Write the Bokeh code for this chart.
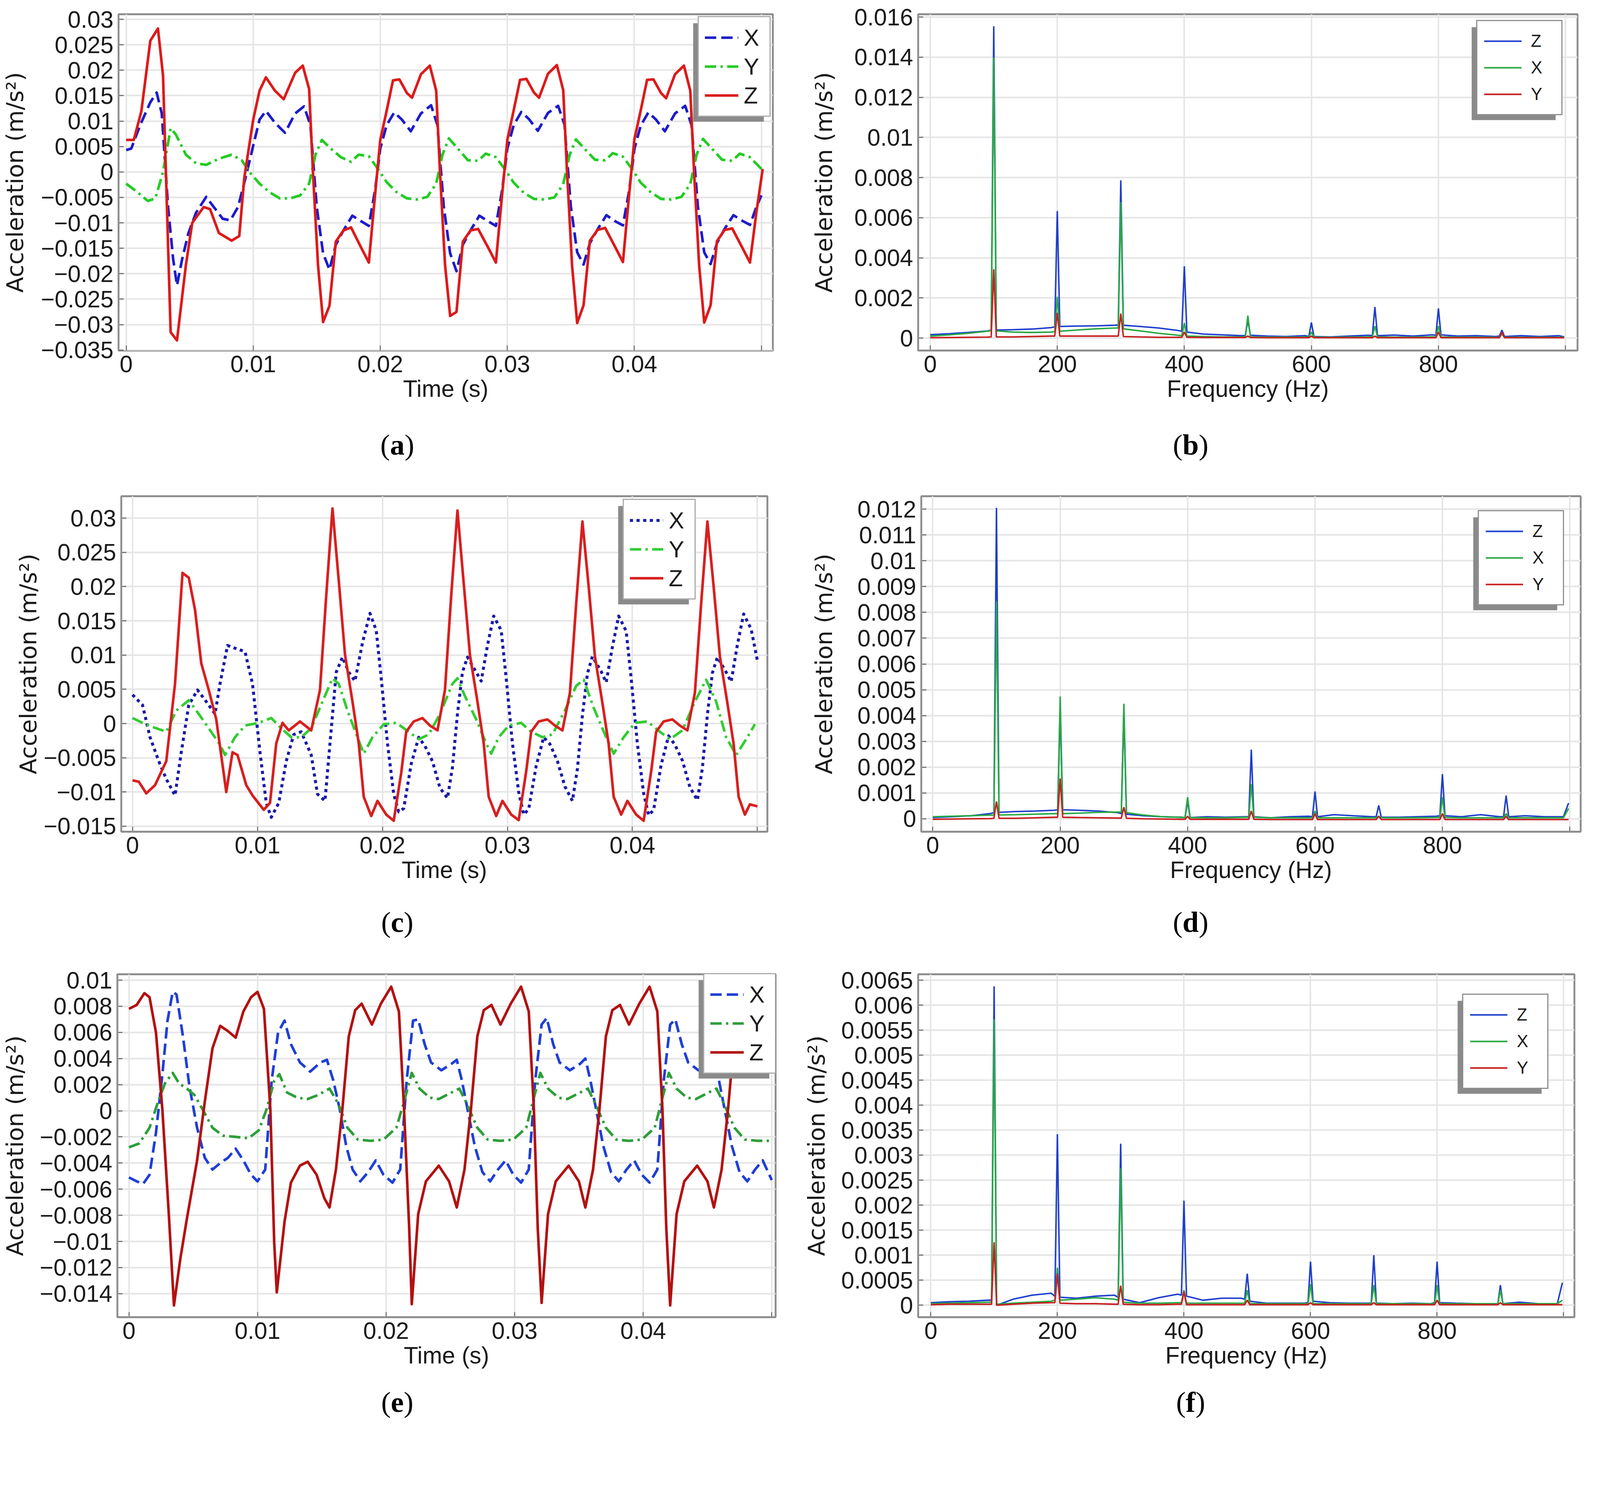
from bokeh.embed import file_html
from bokeh.layouts import column, row
from bokeh.models import (BoxAnnotation, CustomJSTickFormatter, Div, FixedTicker,
                          Legend, LegendItem, Range1d)
from bokeh.plotting import figure
from bokeh.resources import INLINE

SANS = "Liberation Sans"
YLAB_FONT = "DejaVu Sans"

# the page is laid out in reference pixels and scaled by S to css pixels
S = 0.955

# ---------------- (a) time signal ----------------
a_x_t = [
    0.0000, 0.0004, 0.0011, 0.0019, 0.0024, 0.0028, 0.0033, 0.0037, 0.0040, 0.0044,
    0.0049, 0.0055, 0.0063, 0.0069, 0.0076, 0.0082, 0.0088, 0.0094,
    0.0100, 0.0105, 0.0110, 0.0117, 0.0125, 0.0133, 0.0140, 0.0145, 0.0150, 0.0155,
    0.0160, 0.0165, 0.0171, 0.0178, 0.0185, 0.0191, 0.0196,
    0.0200, 0.0205, 0.0211, 0.0217, 0.0224, 0.0232, 0.0240, 0.0245, 0.0250, 0.0255,
    0.0260, 0.0265, 0.0271, 0.0278, 0.0285, 0.0291, 0.0296,
    0.0300, 0.0305, 0.0311, 0.0317, 0.0324, 0.0332, 0.0340, 0.0345, 0.0350, 0.0355,
    0.0360, 0.0365, 0.0371, 0.0378, 0.0385, 0.0391, 0.0396,
    0.0400, 0.0405, 0.0411, 0.0417, 0.0424, 0.0432, 0.0440, 0.0445, 0.0450, 0.0455,
    0.0460, 0.0465, 0.0471, 0.0478, 0.0485, 0.0491, 0.0496, 0.0500,
]
a_x = [
    0.0043, 0.0046, 0.0092, 0.0137, 0.0156, 0.0115, -0.0069, -0.0172, -0.0223, -0.0172,
    -0.0120, -0.0080, -0.0049, -0.0069, -0.0092, -0.0095, -0.0069, -0.0011,
    0.0052, 0.0103, 0.0120, 0.0097, 0.0077, 0.0115, 0.0129, 0.0092, -0.0069, -0.0160,
    -0.0192, -0.0143, -0.0115, -0.0086, -0.0097, -0.0106, -0.0034,
    0.0046, 0.0092, 0.0117, 0.0103, 0.0080, 0.0115, 0.0131, 0.0092, -0.0069, -0.0160,
    -0.0195, -0.0143, -0.0115, -0.0086, -0.0097, -0.0106, -0.0034,
    0.0046, 0.0092, 0.0118, 0.0104, 0.0081, 0.0116, 0.0130, 0.0093, -0.0068, -0.0158,
    -0.0182, -0.0140, -0.0113, -0.0085, -0.0097, -0.0105, -0.0035,
    0.0045, 0.0091, 0.0117, 0.0103, 0.0080, 0.0115, 0.0130, 0.0092, -0.0068, -0.0158,
    -0.0181, -0.0140, -0.0112, -0.0085, -0.0096, -0.0104, -0.0069, -0.0046,
]
a_y_t = [
    0.0000, 0.0009, 0.0017, 0.0023, 0.0029, 0.0035, 0.0039, 0.0047, 0.0055, 0.0063,
    0.0073, 0.0083, 0.0091, 0.0097,
    0.0105, 0.0113, 0.0121, 0.0129, 0.0137, 0.0144, 0.0149, 0.0154, 0.0161, 0.0169,
    0.0177, 0.0183, 0.0191, 0.0199,
    0.0205, 0.0213, 0.0221, 0.0229, 0.0237, 0.0244, 0.0249, 0.0254, 0.0261, 0.0269,
    0.0277, 0.0283, 0.0291, 0.0299,
    0.0305, 0.0313, 0.0321, 0.0329, 0.0337, 0.0344, 0.0349, 0.0354, 0.0361, 0.0369,
    0.0377, 0.0383, 0.0391, 0.0399,
    0.0405, 0.0413, 0.0421, 0.0429, 0.0437, 0.0444, 0.0449, 0.0454, 0.0461, 0.0469,
    0.0477, 0.0483, 0.0491, 0.0500,
]
a_y = [
    -0.0023, -0.0040, -0.0057, -0.0052, 0.0000, 0.0086, 0.0074, 0.0034, 0.0017, 0.0014,
    0.0026, 0.0034, 0.0023, 0.0000,
    -0.0023, -0.0040, -0.0052, -0.0052, -0.0046, -0.0023, 0.0034, 0.0063, 0.0046, 0.0029,
    0.0020, 0.0034, 0.0031, 0.0003,
    -0.0020, -0.0040, -0.0052, -0.0054, -0.0049, -0.0023, 0.0034, 0.0066, 0.0046, 0.0023,
    0.0022, 0.0036, 0.0029, 0.0002,
    -0.0021, -0.0041, -0.0053, -0.0054, -0.0050, -0.0024, 0.0033, 0.0064, 0.0045, 0.0024,
    0.0023, 0.0037, 0.0030, 0.0003,
    -0.0021, -0.0040, -0.0053, -0.0054, -0.0049, -0.0024, 0.0034, 0.0065, 0.0046, 0.0024,
    0.0022, 0.0036, 0.0029, 0.0006,
]
a_z_t = [
    0.0000, 0.0006, 0.0012, 0.0019, 0.0025, 0.0029, 0.0035, 0.0040, 0.0047, 0.0052,
    0.0061, 0.0066, 0.0073, 0.0083, 0.0089, 0.0093,
    0.0100, 0.0105, 0.0110, 0.0117, 0.0124, 0.0133, 0.0139, 0.0144, 0.0147, 0.0151,
    0.0155, 0.0160, 0.0165, 0.0171, 0.0177, 0.0185, 0.0191, 0.0195,
    0.0200, 0.0205, 0.0210, 0.0215, 0.0221, 0.0225, 0.0232, 0.0239, 0.0244, 0.0247,
    0.0251, 0.0255, 0.0260, 0.0265, 0.0271, 0.0277, 0.0285, 0.0291, 0.0295,
    0.0300, 0.0305, 0.0310, 0.0315, 0.0321, 0.0325, 0.0332, 0.0339, 0.0344, 0.0347,
    0.0351, 0.0355, 0.0360, 0.0365, 0.0371, 0.0377, 0.0385, 0.0391, 0.0395,
    0.0400, 0.0405, 0.0410, 0.0415, 0.0421, 0.0425, 0.0432, 0.0439, 0.0444, 0.0447,
    0.0451, 0.0455, 0.0460, 0.0465, 0.0471, 0.0477, 0.0485, 0.0491, 0.0496, 0.0501,
]
a_z = [
    0.0063, 0.0063, 0.0120, 0.0258, 0.0282, 0.0190, -0.0315, -0.0331, -0.0183, -0.0100,
    -0.0069, -0.0073, -0.0120, -0.0135, -0.0126, -0.0011,
    0.0103, 0.0160, 0.0186, 0.0160, 0.0143, 0.0195, 0.0209, 0.0163, 0.0000, -0.0183,
    -0.0295, -0.0263, -0.0137, -0.0115, -0.0109, -0.0149, -0.0178, -0.0069,
    0.0063, 0.0120, 0.0180, 0.0182, 0.0155, 0.0146, 0.0192, 0.0209, 0.0160, 0.0000,
    -0.0183, -0.0283, -0.0275, -0.0137, -0.0115, -0.0112, -0.0149, -0.0178, -0.0069,
    0.0063, 0.0121, 0.0181, 0.0183, 0.0156, 0.0146, 0.0193, 0.0210, 0.0161, 0.0000,
    -0.0185, -0.0297, -0.0262, -0.0135, -0.0114, -0.0110, -0.0148, -0.0177, -0.0068,
    0.0064, 0.0121, 0.0181, 0.0182, 0.0155, 0.0145, 0.0192, 0.0209, 0.0160, 0.0000,
    -0.0184, -0.0296, -0.0262, -0.0136, -0.0114, -0.0111, -0.0149, -0.0178, -0.0080, 0.0006,
]

# ---------------- (c) time signal ----------------
c_x_t = [
    0.0000, 0.0008, 0.0014, 0.0021, 0.0027, 0.0034, 0.0039, 0.0045, 0.0052, 0.0059,
    0.0066, 0.0070, 0.0076, 0.0082, 0.0090, 0.0096,
    0.0102, 0.0107, 0.0111, 0.0117, 0.0123, 0.0129, 0.0135, 0.0143, 0.0148, 0.0154,
    0.0158, 0.0163, 0.0168, 0.0173, 0.0178, 0.0184, 0.0190, 0.0195, 0.0199,
    0.0204, 0.0209, 0.0213, 0.0217, 0.0223, 0.0229, 0.0234, 0.0240, 0.0246, 0.0252,
    0.0256, 0.0260, 0.0264, 0.0268, 0.0275, 0.0279, 0.0284, 0.0289, 0.0295, 0.0299,
    0.0304, 0.0309, 0.0313, 0.0317, 0.0323, 0.0329, 0.0334, 0.0340, 0.0346, 0.0352,
    0.0356, 0.0360, 0.0364, 0.0368, 0.0375, 0.0379, 0.0384, 0.0389, 0.0395, 0.0399,
    0.0404, 0.0409, 0.0413, 0.0417, 0.0423, 0.0429, 0.0434, 0.0440, 0.0446, 0.0452,
    0.0456, 0.0460, 0.0464, 0.0468, 0.0475, 0.0479, 0.0484, 0.0489, 0.0495, 0.0500,
]
c_x = [
    0.0042, 0.0027, -0.0020, -0.0055, -0.0081, -0.0105, -0.0042, 0.0027, 0.0049, 0.0032,
    0.0014, 0.0058, 0.0114, 0.0110, 0.0105, 0.0058,
    -0.0042, -0.0116, -0.0137, -0.0116, -0.0055, -0.0016, -0.0012, -0.0046, -0.0103, -0.0113,
    -0.0029, 0.0075, 0.0097, 0.0075, 0.0062, 0.0118, 0.0161, 0.0136, 0.0066,
    -0.0029, -0.0103, -0.0129, -0.0124, -0.0059, -0.0020, -0.0033, -0.0055, -0.0094, -0.0109,
    -0.0064, 0.0014, 0.0075, 0.0097, 0.0075, 0.0062, 0.0114, 0.0157, 0.0136, 0.0066,
    -0.0029, -0.0100, -0.0133, -0.0125, -0.0062, -0.0020, -0.0030, -0.0055, -0.0092, -0.0113,
    -0.0066, 0.0012, 0.0073, 0.0098, 0.0076, 0.0060, 0.0112, 0.0157, 0.0135, 0.0066,
    -0.0030, -0.0102, -0.0134, -0.0126, -0.0060, -0.0018, -0.0031, -0.0054, -0.0093, -0.0112,
    -0.0065, 0.0013, 0.0074, 0.0097, 0.0075, 0.0061, 0.0115, 0.0160, 0.0138, 0.0092,
]
c_y_t = [
    0.0000, 0.0008, 0.0016, 0.0027, 0.0035, 0.0045, 0.0053, 0.0061, 0.0070, 0.0074,
    0.0082, 0.0090,
    0.0101, 0.0111, 0.0119, 0.0127, 0.0135, 0.0143, 0.0152, 0.0160, 0.0165, 0.0172,
    0.0180, 0.0185, 0.0192,
    0.0201, 0.0211, 0.0221, 0.0229, 0.0237, 0.0246, 0.0256, 0.0260, 0.0266, 0.0275,
    0.0283, 0.0287, 0.0293,
    0.0301, 0.0311, 0.0319, 0.0328, 0.0336, 0.0346, 0.0355, 0.0361, 0.0369, 0.0379,
    0.0385, 0.0393,
    0.0402, 0.0412, 0.0422, 0.0430, 0.0440, 0.0450, 0.0459, 0.0467, 0.0475, 0.0483,
    0.0492, 0.0498,
]
c_y = [
    0.0008, 0.0001, -0.0005, -0.0012, 0.0019, 0.0034, 0.0014, -0.0007, -0.0031, -0.0046,
    -0.0020, -0.0003,
    0.0001, 0.0008, -0.0007, -0.0020, -0.0020, -0.0007, 0.0032, 0.0066, 0.0058, 0.0019,
    -0.0020, -0.0044, -0.0020,
    -0.0001, 0.0001, -0.0012, -0.0023, -0.0016, 0.0014, 0.0058, 0.0066, 0.0040, 0.0006,
    -0.0029, -0.0044, -0.0020,
    -0.0003, 0.0001, -0.0012, -0.0020, -0.0016, 0.0019, 0.0055, 0.0064, 0.0023, -0.0020,
    -0.0044, -0.0020,
    0.0001, 0.0003, -0.0012, -0.0023, -0.0010, 0.0032, 0.0064, 0.0032, -0.0020, -0.0046,
    -0.0020, -0.0001,
]
c_z_t = [
    0.0000, 0.0005, 0.0011, 0.0018, 0.0027, 0.0034, 0.0040, 0.0045, 0.0050, 0.0055,
    0.0061, 0.0067, 0.0075, 0.0080, 0.0084, 0.0091, 0.0096,
    0.0105, 0.0110, 0.0115, 0.0120, 0.0125, 0.0134, 0.0143, 0.0150, 0.0155, 0.0160,
    0.0165, 0.0170, 0.0176, 0.0181, 0.0185, 0.0191, 0.0196,
    0.0203, 0.0209, 0.0215, 0.0219, 0.0225, 0.0232, 0.0238, 0.0244, 0.0250, 0.0255,
    0.0260, 0.0265, 0.0270, 0.0276, 0.0281, 0.0285, 0.0291, 0.0296,
    0.0303, 0.0309, 0.0315, 0.0319, 0.0325, 0.0332, 0.0338, 0.0344, 0.0350, 0.0355,
    0.0360, 0.0365, 0.0370, 0.0376, 0.0381, 0.0385, 0.0391, 0.0396,
    0.0403, 0.0409, 0.0415, 0.0419, 0.0425, 0.0432, 0.0438, 0.0444, 0.0450, 0.0455,
    0.0460, 0.0465, 0.0470, 0.0476, 0.0481, 0.0485, 0.0490, 0.0494, 0.0500,
]
c_z = [
    -0.0083, -0.0085, -0.0102, -0.0090, -0.0055, 0.0058, 0.0220, 0.0213, 0.0166, 0.0088,
    0.0049, 0.0006, -0.0100, -0.0042, -0.0046, -0.0090, -0.0105,
    -0.0126, -0.0116, -0.0029, 0.0001, -0.0010, 0.0003, -0.0010, 0.0049, 0.0187, 0.0314,
    0.0209, 0.0101, 0.0032, -0.0029, -0.0107, -0.0135, -0.0113,
    -0.0133, -0.0142, -0.0072, -0.0012, 0.0003, 0.0008, -0.0003, -0.0010, 0.0049, 0.0187,
    0.0311, 0.0205, 0.0100, 0.0032, -0.0029, -0.0107, -0.0135, -0.0113,
    -0.0133, -0.0141, -0.0070, -0.0012, 0.0003, 0.0006, -0.0003, -0.0010, 0.0045, 0.0175,
    0.0295, 0.0200, 0.0098, 0.0030, -0.0030, -0.0107, -0.0133, -0.0113,
    -0.0133, -0.0142, -0.0070, -0.0012, 0.0003, 0.0006, -0.0003, -0.0010, 0.0045, 0.0175,
    0.0295, 0.0200, 0.0098, 0.0030, -0.0030, -0.0107, -0.0133, -0.0118, -0.0121,
]

# ---------------- (e) time signal ----------------
e_x_t = [
    0.0000, 0.0006, 0.0011, 0.0016, 0.0021, 0.0026, 0.0030, 0.0034, 0.0037, 0.0042,
    0.0047, 0.0053, 0.0059, 0.0065, 0.0071, 0.0077, 0.0083, 0.0089, 0.0095,
    0.0100, 0.0106, 0.0111, 0.0116, 0.0121, 0.0126, 0.0133, 0.0141, 0.0149, 0.0154,
    0.0159, 0.0164, 0.0169, 0.0174, 0.0180, 0.0186, 0.0192, 0.0198,
    0.0205, 0.0211, 0.0216, 0.0221, 0.0225, 0.0230, 0.0235, 0.0243, 0.0251, 0.0255,
    0.0259, 0.0264, 0.0269, 0.0275, 0.0281, 0.0287, 0.0293, 0.0299,
    0.0305, 0.0311, 0.0316, 0.0321, 0.0325, 0.0330, 0.0335, 0.0343, 0.0351, 0.0355,
    0.0359, 0.0364, 0.0369, 0.0375, 0.0381, 0.0387, 0.0393, 0.0399,
    0.0405, 0.0411, 0.0416, 0.0421, 0.0425, 0.0430, 0.0435, 0.0443, 0.0451, 0.0455,
    0.0459, 0.0464, 0.0469, 0.0475, 0.0481, 0.0487, 0.0493, 0.0500,
]
e_x = [
    -0.0051, -0.0054, -0.0056, -0.0049, -0.0017, 0.0028, 0.0069, 0.0091, 0.0089, 0.0057,
    0.0019, -0.0013, -0.0036, -0.0045, -0.0040, -0.0036, -0.0029, -0.0038, -0.0049,
    -0.0054, -0.0045, 0.0023, 0.0060, 0.0069, 0.0051, 0.0037, 0.0030, 0.0037, 0.0039,
    0.0023, 0.0001, -0.0027, -0.0045, -0.0054, -0.0047, -0.0038, -0.0049,
    -0.0055, -0.0045, 0.0023, 0.0069, 0.0070, 0.0051, 0.0037, 0.0031, 0.0036, 0.0039,
    0.0023, -0.0002, -0.0027, -0.0047, -0.0054, -0.0045, -0.0038, -0.0049,
    -0.0055, -0.0045, 0.0023, 0.0066, 0.0071, 0.0051, 0.0037, 0.0031, 0.0036, 0.0040,
    0.0023, -0.0002, -0.0027, -0.0047, -0.0054, -0.0045, -0.0038, -0.0049,
    -0.0055, -0.0045, 0.0023, 0.0066, 0.0070, 0.0051, 0.0037, 0.0031, 0.0036, 0.0040,
    0.0023, -0.0002, -0.0027, -0.0047, -0.0054, -0.0045, -0.0038, -0.0053,
]
e_y_t = [
    0.0000, 0.0008, 0.0016, 0.0022, 0.0028, 0.0034, 0.0039, 0.0045, 0.0051, 0.0059,
    0.0065, 0.0073, 0.0083, 0.0093,
    0.0101, 0.0107, 0.0113, 0.0117, 0.0123, 0.0131, 0.0139, 0.0147, 0.0156, 0.0163,
    0.0170, 0.0178, 0.0188, 0.0198,
    0.0208, 0.0214, 0.0220, 0.0226, 0.0234, 0.0241, 0.0249, 0.0257, 0.0263, 0.0271,
    0.0279, 0.0289, 0.0299,
    0.0309, 0.0315, 0.0320, 0.0326, 0.0334, 0.0341, 0.0349, 0.0357, 0.0363, 0.0371,
    0.0379, 0.0389, 0.0399,
    0.0409, 0.0415, 0.0420, 0.0426, 0.0434, 0.0441, 0.0449, 0.0457, 0.0463, 0.0471,
    0.0479, 0.0489, 0.0500,
]
e_y = [
    -0.0028, -0.0025, -0.0013, 0.0005, 0.0021, 0.0029, 0.0021, 0.0017, 0.0012, -0.0002,
    -0.0013, -0.0019, -0.0020, -0.0021,
    -0.0015, 0.0001, 0.0023, 0.0028, 0.0014, 0.0010, 0.0009, 0.0012, 0.0017, 0.0005,
    -0.0013, -0.0022, -0.0023, -0.0022,
    -0.0013, 0.0007, 0.0029, 0.0017, 0.0010, 0.0009, 0.0013, 0.0017, 0.0005, -0.0013,
    -0.0022, -0.0023, -0.0022,
    -0.0013, 0.0010, 0.0029, 0.0017, 0.0010, 0.0009, 0.0013, 0.0017, 0.0005, -0.0013,
    -0.0022, -0.0023, -0.0022,
    -0.0013, 0.0010, 0.0029, 0.0017, 0.0010, 0.0009, 0.0013, 0.0017, 0.0005, -0.0013,
    -0.0022, -0.0023, -0.0023,
]
e_z_t = [
    0.0000, 0.0006, 0.0012, 0.0016, 0.0021, 0.0026, 0.0031, 0.0035, 0.0040, 0.0045,
    0.0053, 0.0059, 0.0065, 0.0071, 0.0077, 0.0083, 0.0089, 0.0095,
    0.0100, 0.0105, 0.0110, 0.0113, 0.0115, 0.0121, 0.0126, 0.0133, 0.0139, 0.0146,
    0.0152, 0.0156, 0.0161, 0.0166, 0.0171, 0.0176, 0.0181, 0.0189, 0.0196,
    0.0204, 0.0210, 0.0214, 0.0218, 0.0220, 0.0225, 0.0231, 0.0241, 0.0249, 0.0255,
    0.0261, 0.0266, 0.0271, 0.0276, 0.0282, 0.0289, 0.0297,
    0.0305, 0.0311, 0.0315, 0.0318, 0.0321, 0.0326, 0.0332, 0.0342, 0.0350, 0.0355,
    0.0361, 0.0366, 0.0371, 0.0376, 0.0382, 0.0389, 0.0397,
    0.0405, 0.0411, 0.0415, 0.0418, 0.0421, 0.0426, 0.0432, 0.0442, 0.0450, 0.0455,
    0.0461, 0.0466, 0.0471, 0.0476, 0.0482, 0.0489, 0.0497,
]
e_z = [
    0.0078, 0.0081, 0.0090, 0.0087, 0.0060, 0.0001, -0.0079, -0.0149, -0.0113, -0.0083,
    -0.0038, 0.0007, 0.0048, 0.0065, 0.0061, 0.0056, 0.0076, 0.0087,
    0.0091, 0.0078, 0.0001, -0.0101, -0.0139, -0.0085, -0.0055, -0.0042, -0.0039, -0.0049,
    -0.0067, -0.0074, -0.0045, 0.0001, 0.0057, 0.0077, 0.0082, 0.0066, 0.0082,
    0.0095, 0.0076, 0.0001, -0.0090, -0.0148, -0.0079, -0.0054, -0.0042, -0.0054, -0.0074,
    -0.0045, 0.0001, 0.0057, 0.0077, 0.0081, 0.0066, 0.0082,
    0.0095, 0.0076, 0.0001, -0.0090, -0.0147, -0.0079, -0.0054, -0.0042, -0.0054, -0.0074,
    -0.0045, 0.0001, 0.0057, 0.0077, 0.0081, 0.0066, 0.0082,
    0.0095, 0.0076, 0.0001, -0.0090, -0.0149, -0.0079, -0.0054, -0.0042, -0.0054, -0.0074,
    -0.0045, 0.0001, 0.0057, 0.0077, 0.0081, 0.0066, 0.0082,
]

# ---------------- spectra (b), (d), (f) ----------------
freq = [
    0, 30, 60, 90,
    96, 100, 104, 130, 160, 190,
    196, 200, 204, 230, 260, 290,
    296, 300, 304, 330, 360, 390,
    396, 400, 404, 430, 460, 490,
    496, 500, 504, 530, 560, 590,
    596, 600, 604, 630, 660, 690,
    696, 700, 704, 730, 760, 790,
    796, 800, 804, 830, 860, 890,
    896, 900, 904, 930, 960, 990,
    998,
]
b_z = [
    0.00017, 0.00022, 0.00028, 0.00035,
    0.00040, 0.01554, 0.00040, 0.00042, 0.00045, 0.00052,
    0.00056, 0.00633, 0.00058, 0.00060, 0.00061, 0.00064,
    0.00065, 0.00786, 0.00064, 0.00058, 0.00050, 0.00038,
    0.00034, 0.00358, 0.00030, 0.00020, 0.00016, 0.00012,
    0.00012, 0.00090, 0.00014, 0.00010, 0.00008, 0.00012,
    0.00008, 0.00078, 0.00008, 0.00006, 0.00010, 0.00014,
    0.00012, 0.00155, 0.00012, 0.00015, 0.00010, 0.00016,
    0.00014, 0.00148, 0.00016, 0.00010, 0.00012, 0.00008,
    0.00010, 0.00040, 0.00008, 0.00012, 0.00008, 0.00012,
    0.00006,
]
b_x = [
    0.00010, 0.00016, 0.00024, 0.00034,
    0.00038, 0.01400, 0.00036, 0.00030, 0.00028, 0.00030,
    0.00032, 0.00206, 0.00034, 0.00040, 0.00046, 0.00050,
    0.00050, 0.00677, 0.00046, 0.00036, 0.00024, 0.00014,
    0.00012, 0.00075, 0.00010, 0.00008, 0.00006, 0.00006,
    0.00006, 0.00112, 0.00006, 0.00005, 0.00005, 0.00005,
    0.00005, 0.00030, 0.00005, 0.00004, 0.00005, 0.00006,
    0.00006, 0.00060, 0.00006, 0.00005, 0.00005, 0.00006,
    0.00006, 0.00060, 0.00006, 0.00005, 0.00005, 0.00004,
    0.00004, 0.00020, 0.00004, 0.00004, 0.00004, 0.00004,
    0.00004,
]
b_y = [
    0.00002, 0.00003, 0.00004, 0.00005,
    0.00006, 0.00343, 0.00006, 0.00006, 0.00008, 0.00010,
    0.00010, 0.00126, 0.00010, 0.00010, 0.00010, 0.00010,
    0.00010, 0.00122, 0.00008, 0.00006, 0.00004, 0.00004,
    0.00004, 0.00030, 0.00004, 0.00003, 0.00003, 0.00003,
    0.00003, 0.00010, 0.00003, 0.00002, 0.00002, 0.00002,
    0.00002, 0.00010, 0.00002, 0.00002, 0.00002, 0.00002,
    0.00002, 0.00010, 0.00002, 0.00002, 0.00002, 0.00002,
    0.00002, 0.00030, 0.00002, 0.00002, 0.00002, 0.00002,
    0.00002, 0.00030, 0.00002, 0.00002, 0.00002, 0.00002,
    0.00002,
]
d_z = [
    0.00005, 0.00008, 0.00012, 0.00020,
    0.00024, 0.01205, 0.00025, 0.00028, 0.00030, 0.00033,
    0.00035, 0.00430, 0.00035, 0.00033, 0.00030, 0.00024,
    0.00020, 0.00420, 0.00018, 0.00012, 0.00008, 0.00006,
    0.00005, 0.00070, 0.00005, 0.00008, 0.00006, 0.00008,
    0.00008, 0.00268, 0.00008, 0.00004, 0.00008, 0.00010,
    0.00008, 0.00106, 0.00008, 0.00016, 0.00012, 0.00008,
    0.00008, 0.00052, 0.00006, 0.00006, 0.00008, 0.00010,
    0.00012, 0.00173, 0.00012, 0.00008, 0.00016, 0.00008,
    0.00008, 0.00090, 0.00008, 0.00012, 0.00008, 0.00008,
    0.00061,
]
d_x = [
    0.00008, 0.00010, 0.00012, 0.00014,
    0.00015, 0.00843, 0.00015, 0.00016, 0.00018, 0.00020,
    0.00020, 0.00474, 0.00020, 0.00022, 0.00025, 0.00026,
    0.00026, 0.00446, 0.00024, 0.00015, 0.00008, 0.00006,
    0.00005, 0.00084, 0.00005, 0.00004, 0.00004, 0.00006,
    0.00006, 0.00134, 0.00006, 0.00004, 0.00004, 0.00004,
    0.00004, 0.00030, 0.00004, 0.00004, 0.00004, 0.00004,
    0.00004, 0.00010, 0.00004, 0.00004, 0.00004, 0.00005,
    0.00005, 0.00084, 0.00005, 0.00004, 0.00004, 0.00004,
    0.00004, 0.00020, 0.00004, 0.00004, 0.00004, 0.00004,
    0.00040,
]
d_y = [
    -0.00002, -0.00001, 0.00000, 0.00001,
    0.00002, 0.00067, 0.00002, 0.00002, 0.00004, 0.00006,
    0.00006, 0.00156, 0.00006, 0.00005, 0.00004, 0.00003,
    0.00003, 0.00045, 0.00002, 0.00000, -0.00001, -0.00002,
    -0.00002, 0.00010, -0.00002, -0.00002, -0.00002, -0.00002,
    -0.00002, 0.00030, -0.00002, -0.00003, -0.00003, -0.00003,
    -0.00003, 0.00020, -0.00003, -0.00003, -0.00003, -0.00003,
    -0.00003, 0.00010, -0.00003, -0.00003, -0.00003, -0.00003,
    -0.00003, 0.00020, -0.00003, -0.00003, -0.00003, -0.00003,
    -0.00003, 0.00010, -0.00003, -0.00003, -0.00003, -0.00003,
    -0.00003,
]
f_z = [
    0.00005, 0.00007, 0.00008, 0.00010,
    0.00010, 0.00638, 0.00000, 0.00012, 0.00020, 0.00024,
    0.00018, 0.00342, 0.00016, 0.00014, 0.00018, 0.00020,
    0.00016, 0.00323, 0.00012, 0.00005, 0.00015, 0.00022,
    0.00020, 0.00209, 0.00018, 0.00010, 0.00014, 0.00014,
    0.00012, 0.00063, 0.00008, 0.00004, 0.00004, 0.00004,
    0.00005, 0.00087, 0.00008, 0.00005, 0.00004, 0.00004,
    0.00004, 0.00100, 0.00004, 0.00003, 0.00004, 0.00003,
    0.00005, 0.00087, 0.00005, 0.00004, 0.00003, 0.00003,
    0.00003, 0.00040, 0.00003, 0.00006, 0.00003, 0.00003,
    0.00045,
]
f_x = [
    0.00003, 0.00004, 0.00005, 0.00006,
    0.00006, 0.00572, 0.00002, 0.00004, 0.00006, 0.00008,
    0.00010, 0.00075, 0.00010, 0.00012, 0.00015, 0.00012,
    0.00010, 0.00274, 0.00006, 0.00004, 0.00004, 0.00005,
    0.00005, 0.00030, 0.00004, 0.00004, 0.00004, 0.00004,
    0.00004, 0.00030, 0.00003, 0.00003, 0.00003, 0.00003,
    0.00003, 0.00042, 0.00003, 0.00003, 0.00003, 0.00003,
    0.00003, 0.00040, 0.00003, 0.00003, 0.00003, 0.00003,
    0.00003, 0.00040, 0.00003, 0.00003, 0.00003, 0.00003,
    0.00003, 0.00030, 0.00003, 0.00003, 0.00003, 0.00003,
    0.00010,
]
f_y = [
    0.00001, 0.00002, 0.00002, 0.00002,
    0.00002, 0.00126, 0.00000, 0.00002, 0.00004, 0.00005,
    0.00005, 0.00063, 0.00004, 0.00003, 0.00003, 0.00002,
    0.00002, 0.00039, 0.00002, 0.00001, 0.00001, 0.00002,
    0.00002, 0.00027, 0.00001, 0.00001, 0.00001, 0.00001,
    0.00001, 0.00010, 0.00001, 0.00001, 0.00001, 0.00001,
    0.00001, 0.00005, 0.00001, 0.00001, 0.00001, 0.00001,
    0.00001, 0.00005, 0.00001, 0.00001, 0.00001, 0.00001,
    0.00001, 0.00010, 0.00001, 0.00001, 0.00001, 0.00001,
    0.00001, 0.00005, 0.00001, 0.00001, 0.00001, 0.00001,
    0.00001,
]

# ticks
time_ticks = [0, 0.01, 0.02, 0.03, 0.04, 0.05]
freq_ticks = [0, 200, 400, 600, 800, 1000]
a_yticks = [-0.035, -0.03, -0.025, -0.02, -0.015, -0.01, -0.005, 0,
            0.005, 0.01, 0.015, 0.02, 0.025, 0.03]
b_yticks = [0, 0.002, 0.004, 0.006, 0.008, 0.01, 0.012, 0.014, 0.016]
c_yticks = [-0.015, -0.01, -0.005, 0, 0.005, 0.01, 0.015, 0.02, 0.025, 0.03]
d_yticks = [0, 0.001, 0.002, 0.003, 0.004, 0.005, 0.006, 0.007, 0.008,
            0.009, 0.01, 0.011, 0.012]
e_yticks = [-0.014, -0.012, -0.01, -0.008, -0.006, -0.004, -0.002, 0,
            0.002, 0.004, 0.006, 0.008, 0.01]
f_yticks = [0, 0.0005, 0.001, 0.0015, 0.002, 0.0025, 0.003, 0.0035, 0.004,
            0.0045, 0.005, 0.0055, 0.006, 0.0065]

FMT = """
if (Math.abs(tick - skip) < 1e-9) { return ""; }
return String(Number(tick.toPrecision(6))).replace("-", "\\u2212");
"""


def px(v):
    return int(round(v * S))


def fpx(v):
    return f"{v * S:.1f}px"


def dash(pattern):
    if pattern == "solid":
        return pattern
    return " ".join(str(max(1, round(float(n) * S))) for n in pattern.split())


W1, W2 = 2130, 2124


def make_fig(width, height, xr, yr, xticks, xskip, yticks, xlabel, borders, ylab_off):
    left, right, top, bottom = borders
    p = figure(width=px(width), height=px(height),
               x_range=Range1d(*xr), y_range=Range1d(*yr),
               output_backend="svg", toolbar_location=None, tools="",
               min_border_left=px(left), min_border_right=px(right),
               min_border_top=px(top), min_border_bottom=px(bottom),
               background_fill_color="white", border_fill_color="white",
               outline_line_color="#8e8e8e", outline_line_width=5 * S)
    p.xaxis.ticker = FixedTicker(ticks=xticks)
    p.yaxis.ticker = FixedTicker(ticks=yticks)
    p.xaxis.formatter = CustomJSTickFormatter(args=dict(skip=xskip), code=FMT)
    p.yaxis.formatter = CustomJSTickFormatter(args=dict(skip=1e9), code=FMT)
    for ax in (p.xaxis, p.yaxis):
        ax.axis_line_color = None
        ax.major_tick_in = px(14)
        ax.major_tick_out = 0
        ax.major_tick_line_color = "#7a7a7a"
        ax.major_tick_line_width = 3 * S
        ax.minor_tick_line_color = None
        ax.major_label_text_font = SANS
        ax.major_label_text_font_size = fpx(63)
        ax.major_label_text_color = "#1a1a1a"
        ax.major_label_standoff = px(14)
    p.xaxis.axis_label = xlabel
    p.xaxis.axis_label_text_font = SANS
    p.xaxis.axis_label_text_font_size = fpx(63)
    p.xaxis.axis_label_text_font_style = "normal"
    p.xaxis.axis_label_text_color = "#1a1a1a"
    p.xaxis.axis_label_standoff = px(6)
    p.yaxis.axis_label = "Acceleration (m/s²)"
    p.yaxis.axis_label_text_font = YLAB_FONT
    p.yaxis.axis_label_text_font_size = fpx(62)
    p.yaxis.axis_label_text_font_style = "normal"
    p.yaxis.axis_label_text_color = "#1a1a1a"
    p.yaxis.axis_label_standoff = px(ylab_off)
    p.grid.grid_line_color = "#e5e5e5"
    p.grid.grid_line_width = 4 * S
    return p


def add_legend(p, entries, loc, font, glyph_w, row_h, pad, standoff, label_w,
               border_color):
    n = len(entries)
    lx, ly = px(loc[0]), px(loc[1])
    box_w = 2 * px(pad) + px(glyph_w) + px(standoff) + px(label_w)
    box_h = 2 * px(pad) + n * px(row_h)
    off = px(13)
    # drop shadow, shifted left and down from the legend box
    shadow = BoxAnnotation(left=lx - off, right=lx - off + box_w,
                           bottom=ly - off, top=ly - off + box_h,
                           left_units="screen", right_units="screen",
                           bottom_units="screen", top_units="screen",
                           fill_color="#8a8a8a", fill_alpha=1, line_color=None)
    p.add_layout(shadow)
    main = Legend(items=[LegendItem(label=l, renderers=[r]) for l, r in entries],
                  location=(lx, ly), label_text_font=SANS,
                  label_text_font_size=fpx(font), label_text_color="#1a1a1a",
                  glyph_width=px(glyph_w), glyph_height=px(row_h),
                  label_height=px(row_h), label_width=px(label_w),
                  label_standoff=px(standoff), padding=px(pad), spacing=0, margin=0,
                  border_line_color=border_color, border_line_width=4 * S,
                  background_fill_color="white", background_fill_alpha=1)
    p.add_layout(main)


def time_panel(width, height, xr, yr, yticks, borders, ylab_off, series, loc):
    p = make_fig(width, height, xr, yr, time_ticks, 0.05, yticks, "Time (s)",
                 borders, ylab_off)
    entries = []
    for label, t, v, color, pattern, lw in series:
        r = p.line(t, v, line_color=color, line_width=lw * S, line_dash=dash(pattern),
                   line_join="round")
        entries.append((label, r))
    add_legend(p, entries, loc, 62, 90, 77, 16, 15, 53, "#5a5a5a")
    return p


def spec_panel(width, height, xr, yr, yticks, borders, ylab_off, z, x, y, loc):
    p = make_fig(width, height, xr, yr, freq_ticks, 1000, yticks, "Frequency (Hz)",
                 borders, ylab_off)
    rz = p.line(freq, z, line_color="#1f3fcc", line_width=4 * S)
    rx = p.line(freq, x, line_color="#2aa845", line_width=4 * S)
    ry = p.line(freq, y, line_color="#c81e1e", line_width=4 * S)
    add_legend(p, [("Z", rz), ("X", rx), ("Y", ry)], loc, 46, 100, 71, 18, 25, 64,
               "#222222")
    return p


fa = time_panel(W1, 1122, (-0.0006, 0.0509), (-0.0351, 0.0310), a_yticks,
                (306, 59, 38, 181), 30,
                [("X", a_x_t, a_x, "#1c1ccc", "30 14", 7),
                 ("Y", a_y_t, a_y, "#22cc22", "30 12 6 12", 7),
                 ("Z", a_z_t, a_z, "#dd1a1a", "solid", 7)],
                (1553, 626))
fb = spec_panel(W2, 1122, (-19, 1019), (-0.00062, 0.01614), b_yticks,
                (331, 25, 38, 183), 42, b_z, b_x, b_y, (1496, 630))
fc = time_panel(W1, 1130, (-0.0009, 0.0508), (-0.0158, 0.0332), c_yticks,
                (325, 73, 67, 163), 2,
                [("X", c_x_t, c_x, "#1a1aaa", "8 9", 8),
                 ("Y", c_y_t, c_y, "#33cc33", "30 12 6 12", 7),
                 ("Z", c_z_t, c_z, "#d81f1f", "solid", 7)],
                (1345, 622))
fd = spec_panel(W2, 1130, (-18, 1017), (-0.0005, 0.0125), d_yticks,
                (339, 17, 48, 163), 50, d_z, d_x, d_y, (1492, 606))
fe = time_panel(W1, 1140, (-0.0009, 0.0503), (-0.0158, 0.01045), e_yticks,
                (314, 51, 45, 162), 27,
                [("X", e_x_t, e_x, "#1f3fd6", "30 14", 7),
                 ("Y", e_y_t, e_y, "#2e9e3a", "30 12 6 12", 7),
                 ("Z", e_z_t, e_z, "#b31111", "solid", 7)],
                (1571, 652))
ff = spec_panel(W2, 1140, (-20, 1017), (-0.00024, 0.00662), f_yticks,
                (331, 34, 59, 162), 26, f_z, f_x, f_y, (1459, 611))


def caption(letter, width, height):
    return Div(text=f"(<b>{letter}</b>)", width=px(width), height=px(height), margin=0,
               styles={"font-family": "'Liberation Serif', serif",
                       "font-size": fpx(78), "text-align": "center",
                       "line-height": f"{px(height)}px", "color": "#000000"})


layout = column(
    row(fa, fb),
    row(caption("a", W1, 140), caption("b", W2, 140)),
    row(fc, fd),
    row(caption("c", W1, 160), caption("d", W2, 160)),
    row(fe, ff),
    row(caption("e", W1, 132), caption("f", W2, 132)),
)

open("out.html", "w").write(file_html(layout, INLINE, title="Acceleration"))
